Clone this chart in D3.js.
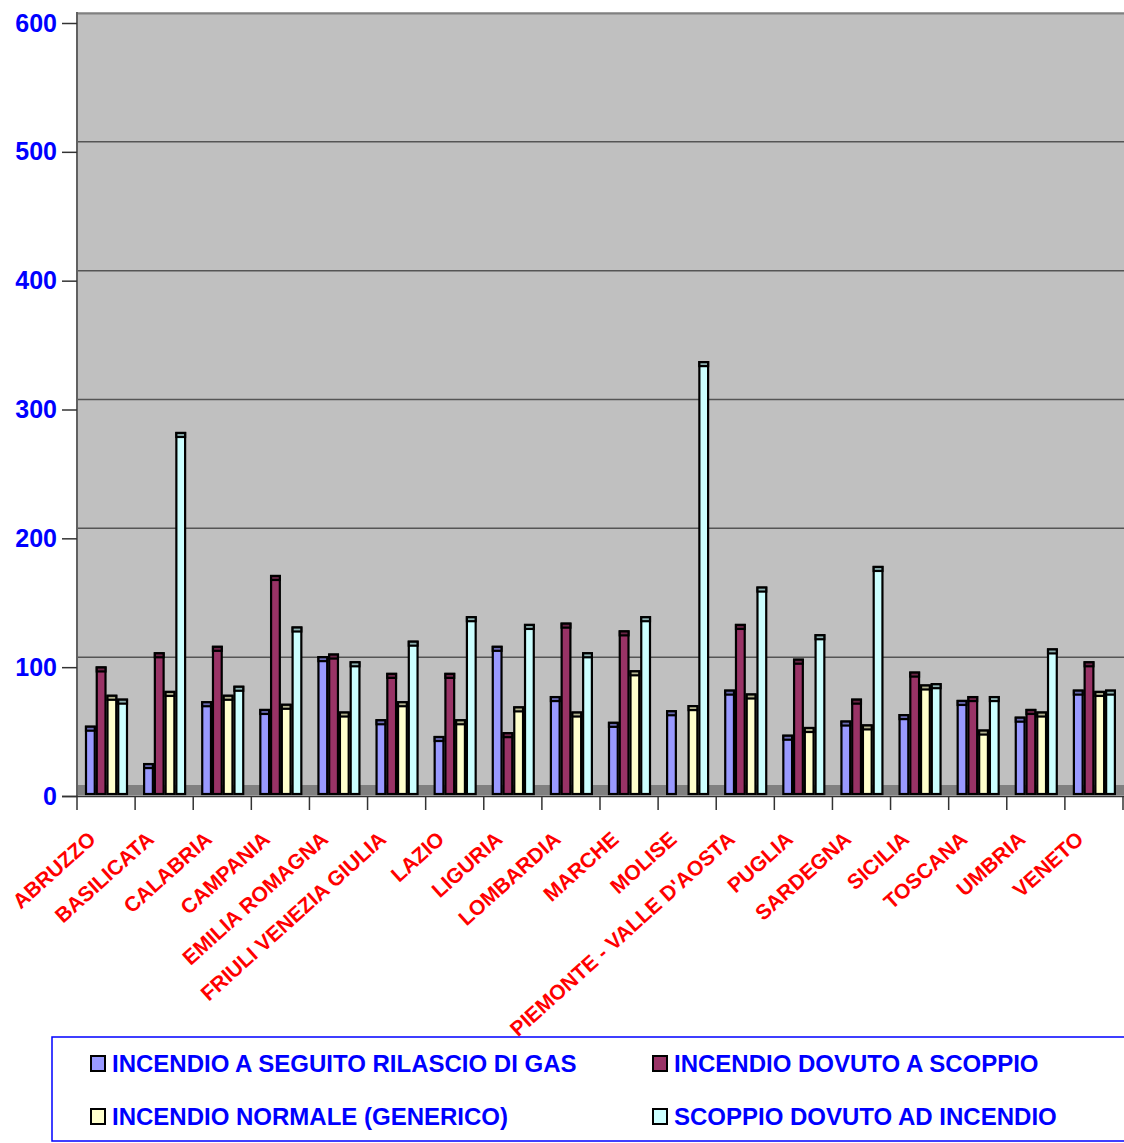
<!DOCTYPE html>
<html>
<head>
<meta charset="utf-8">
<script src="https://cdn.jsdelivr.net/npm/d3@7"></script>
<style>
  html, body { margin: 0; padding: 0; background: #fff; }
  svg { display: block; font-family: "Liberation Sans", Arial, sans-serif; font-weight: bold; }
</style>
</head>
<body>
<svg id="chart" width="1124" height="1143"></svg>
<script>
const categories = ["ABRUZZO", "BASILICATA", "CALABRIA", "CAMPANIA", "EMILIA ROMAGNA",
  "FRIULI VENEZIA GIULIA", "LAZIO", "LIGURIA", "LOMBARDIA", "MARCHE", "MOLISE",
  "PIEMONTE - VALLE D'AOSTA", "PUGLIA", "SARDEGNA", "SICILIA", "TOSCANA", "UMBRIA", "VENETO"];

const seriesNames = ["INCENDIO A SEGUITO RILASCIO DI GAS", "INCENDIO DOVUTO A SCOPPIO",
  "INCENDIO NORMALE (GENERICO)", "SCOPPIO DOVUTO AD INCENDIO"];

const seriesColors = ["#9999FF", "#993366", "#FFFFCC", "#CCFFFF"];

const gasRelease   = [53, 24, 72, 66, 107, 58, 45, 115, 76, 56, 65, 81, 46, 57, 62, 73, 60, 81];
const dueToBlast   = [99, 110, 115, 170, 109, 94, 94, 48, 133, 127, 0, 132, 105, 74, 95, 76, 66, 103];
const normalFire   = [77, 80, 77, 70, 64, 72, 58, 68, 64, 96, 69, 78, 52, 54, 85, 50, 64, 80];
const blastByFire  = [74, 281, 84, 130, 103, 119, 138, 132, 110, 138, 336, 161, 124, 177, 86, 76, 113, 81];

const yTicks = [0, 100, 200, 300, 400, 500, 600];

const seriesValues = [gasRelease, dueToBlast, normalFire, blastByFire];

const svg = d3.select("#chart");

const plotLeft = 77, plotRight = 1123, plotTop = 12, axisY = 796;
const wallShift = 10;   // back wall offset (3D look)

const y = d3.scaleLinear().domain([0, 600]).range([axisY, 23]);
const x0 = d3.scaleBand().domain(categories).range([plotLeft, plotRight]).paddingInner(0).paddingOuter(0);
const x1 = d3.scaleBand().domain(d3.range(4)).range([8, 51]).padding(0);

// plot background (back wall)
svg.append("rect")
  .attr("x", plotLeft).attr("y", plotTop)
  .attr("width", plotRight - plotLeft + 1).attr("height", axisY - plotTop)
  .attr("fill", "#C0C0C0");

// top border
svg.append("line")
  .attr("x1", plotLeft).attr("x2", plotRight + 1)
  .attr("y1", y(600) - wallShift + 0.5).attr("y2", y(600) - wallShift + 0.5)
  .attr("stroke", "#808080").attr("stroke-width", 2);

// gridlines on back wall
svg.append("g").selectAll("line")
  .data(yTicks.filter(d => d > 0 && d < 600))
  .join("line")
  .attr("x1", plotLeft + 1).attr("x2", plotRight + 1)
  .attr("y1", d => y(d) - wallShift).attr("y2", d => y(d) - wallShift)
  .attr("stroke", "#555555").attr("stroke-width", 1.5);

// floor
svg.append("rect")
  .attr("x", plotLeft).attr("y", y(0) - 11)
  .attr("width", plotRight - plotLeft + 1).attr("height", 10)
  .attr("fill", "#808080");

// left wall line
svg.append("line")
  .attr("x1", plotLeft).attr("x2", plotLeft)
  .attr("y1", plotTop).attr("y2", axisY)
  .attr("stroke", "#606060").attr("stroke-width", 2);

// Y axis
const yAxis = d3.axisLeft(y).tickValues(yTicks).tickSize(15).tickPadding(5).tickFormat(d3.format("d"));
const gy = svg.append("g").attr("transform", `translate(${plotLeft},0)`).call(yAxis);
gy.select(".domain").remove();
gy.selectAll(".tick line").attr("stroke", "#333").attr("stroke-width", 1.5);
gy.selectAll(".tick text")
  .attr("fill", "#0000FF").attr("font-size", 25).attr("font-weight", "bold")
  .attr("font-family", "'Liberation Sans', Arial, sans-serif");

// X axis
const gx = svg.append("g").attr("transform", `translate(0,${axisY})`);
gx.append("line").attr("x1", 62).attr("x2", plotRight + 1).attr("y1", 0.5).attr("y2", 0.5)
  .attr("stroke", "#333").attr("stroke-width", 1.5);
const bounds = categories.map(c => x0(c)).concat([plotRight]);
gx.selectAll("line.tk").data(bounds).join("line").attr("class", "tk")
  .attr("x1", d => d).attr("x2", d => d).attr("y1", 0).attr("y2", 14)
  .attr("stroke", "#333").attr("stroke-width", 1.5);

// bars
const bars = [];
categories.forEach((c, i) => {
  seriesValues.forEach((vals, s) => {
    bars.push({ cat: c, s, v: vals[i] });
  });
});
const gb = svg.append("g");
const barBottom = y(0) - 2;
bars.filter(d => d.v > 0).forEach(d => {
  const bx = x0(d.cat) + x1(d.s);
  const bw = x1.bandwidth();
  const top = y(d.v) - 2;
  const col = seriesColors[d.s];
  gb.append("rect")
    .attr("x", bx + 1).attr("y", top + 1)
    .attr("width", bw - 2).attr("height", barBottom - top - 1)
    .attr("fill", col).attr("stroke", "#000").attr("stroke-width", 2.2);
  gb.append("rect")
    .attr("x", bx + 1).attr("y", top + 1)
    .attr("width", bw - 2).attr("height", 4)
    .attr("fill", d3.color(col).darker(1)).attr("stroke", "#000").attr("stroke-width", 2.2);
});

// category labels
svg.append("g").selectAll("text")
  .data(categories)
  .join("text")
  .attr("transform", d => `translate(${x0(d) + x0.bandwidth() / 2 - 9},${axisY + 45}) rotate(-42)`)
  .attr("text-anchor", "end")
  .attr("fill", "#FF0000")
  .attr("font-size", 21)
  .text(d => d);

// legend
const lg = svg.append("g");
lg.append("rect")
  .attr("x", 52).attr("y", 1037).attr("width", 1090).attr("height", 104)
  .attr("fill", "none").attr("stroke", "#0000FF").attr("stroke-width", 1.5);
const legendPos = [[90, 1055], [652, 1055], [90, 1108], [652, 1108]];
seriesNames.forEach((name, i) => {
  const [lx, ly] = legendPos[i];
  lg.append("rect").attr("x", lx + 1).attr("y", ly + 1).attr("width", 14).attr("height", 15)
    .attr("fill", seriesColors[i]).attr("stroke", "#000").attr("stroke-width", 2);
  lg.append("text").attr("x", lx + 22).attr("y", ly + 17)
    .attr("fill", "#0000FF").attr("font-size", 24).text(name);
});
</script>
</body>
</html>
